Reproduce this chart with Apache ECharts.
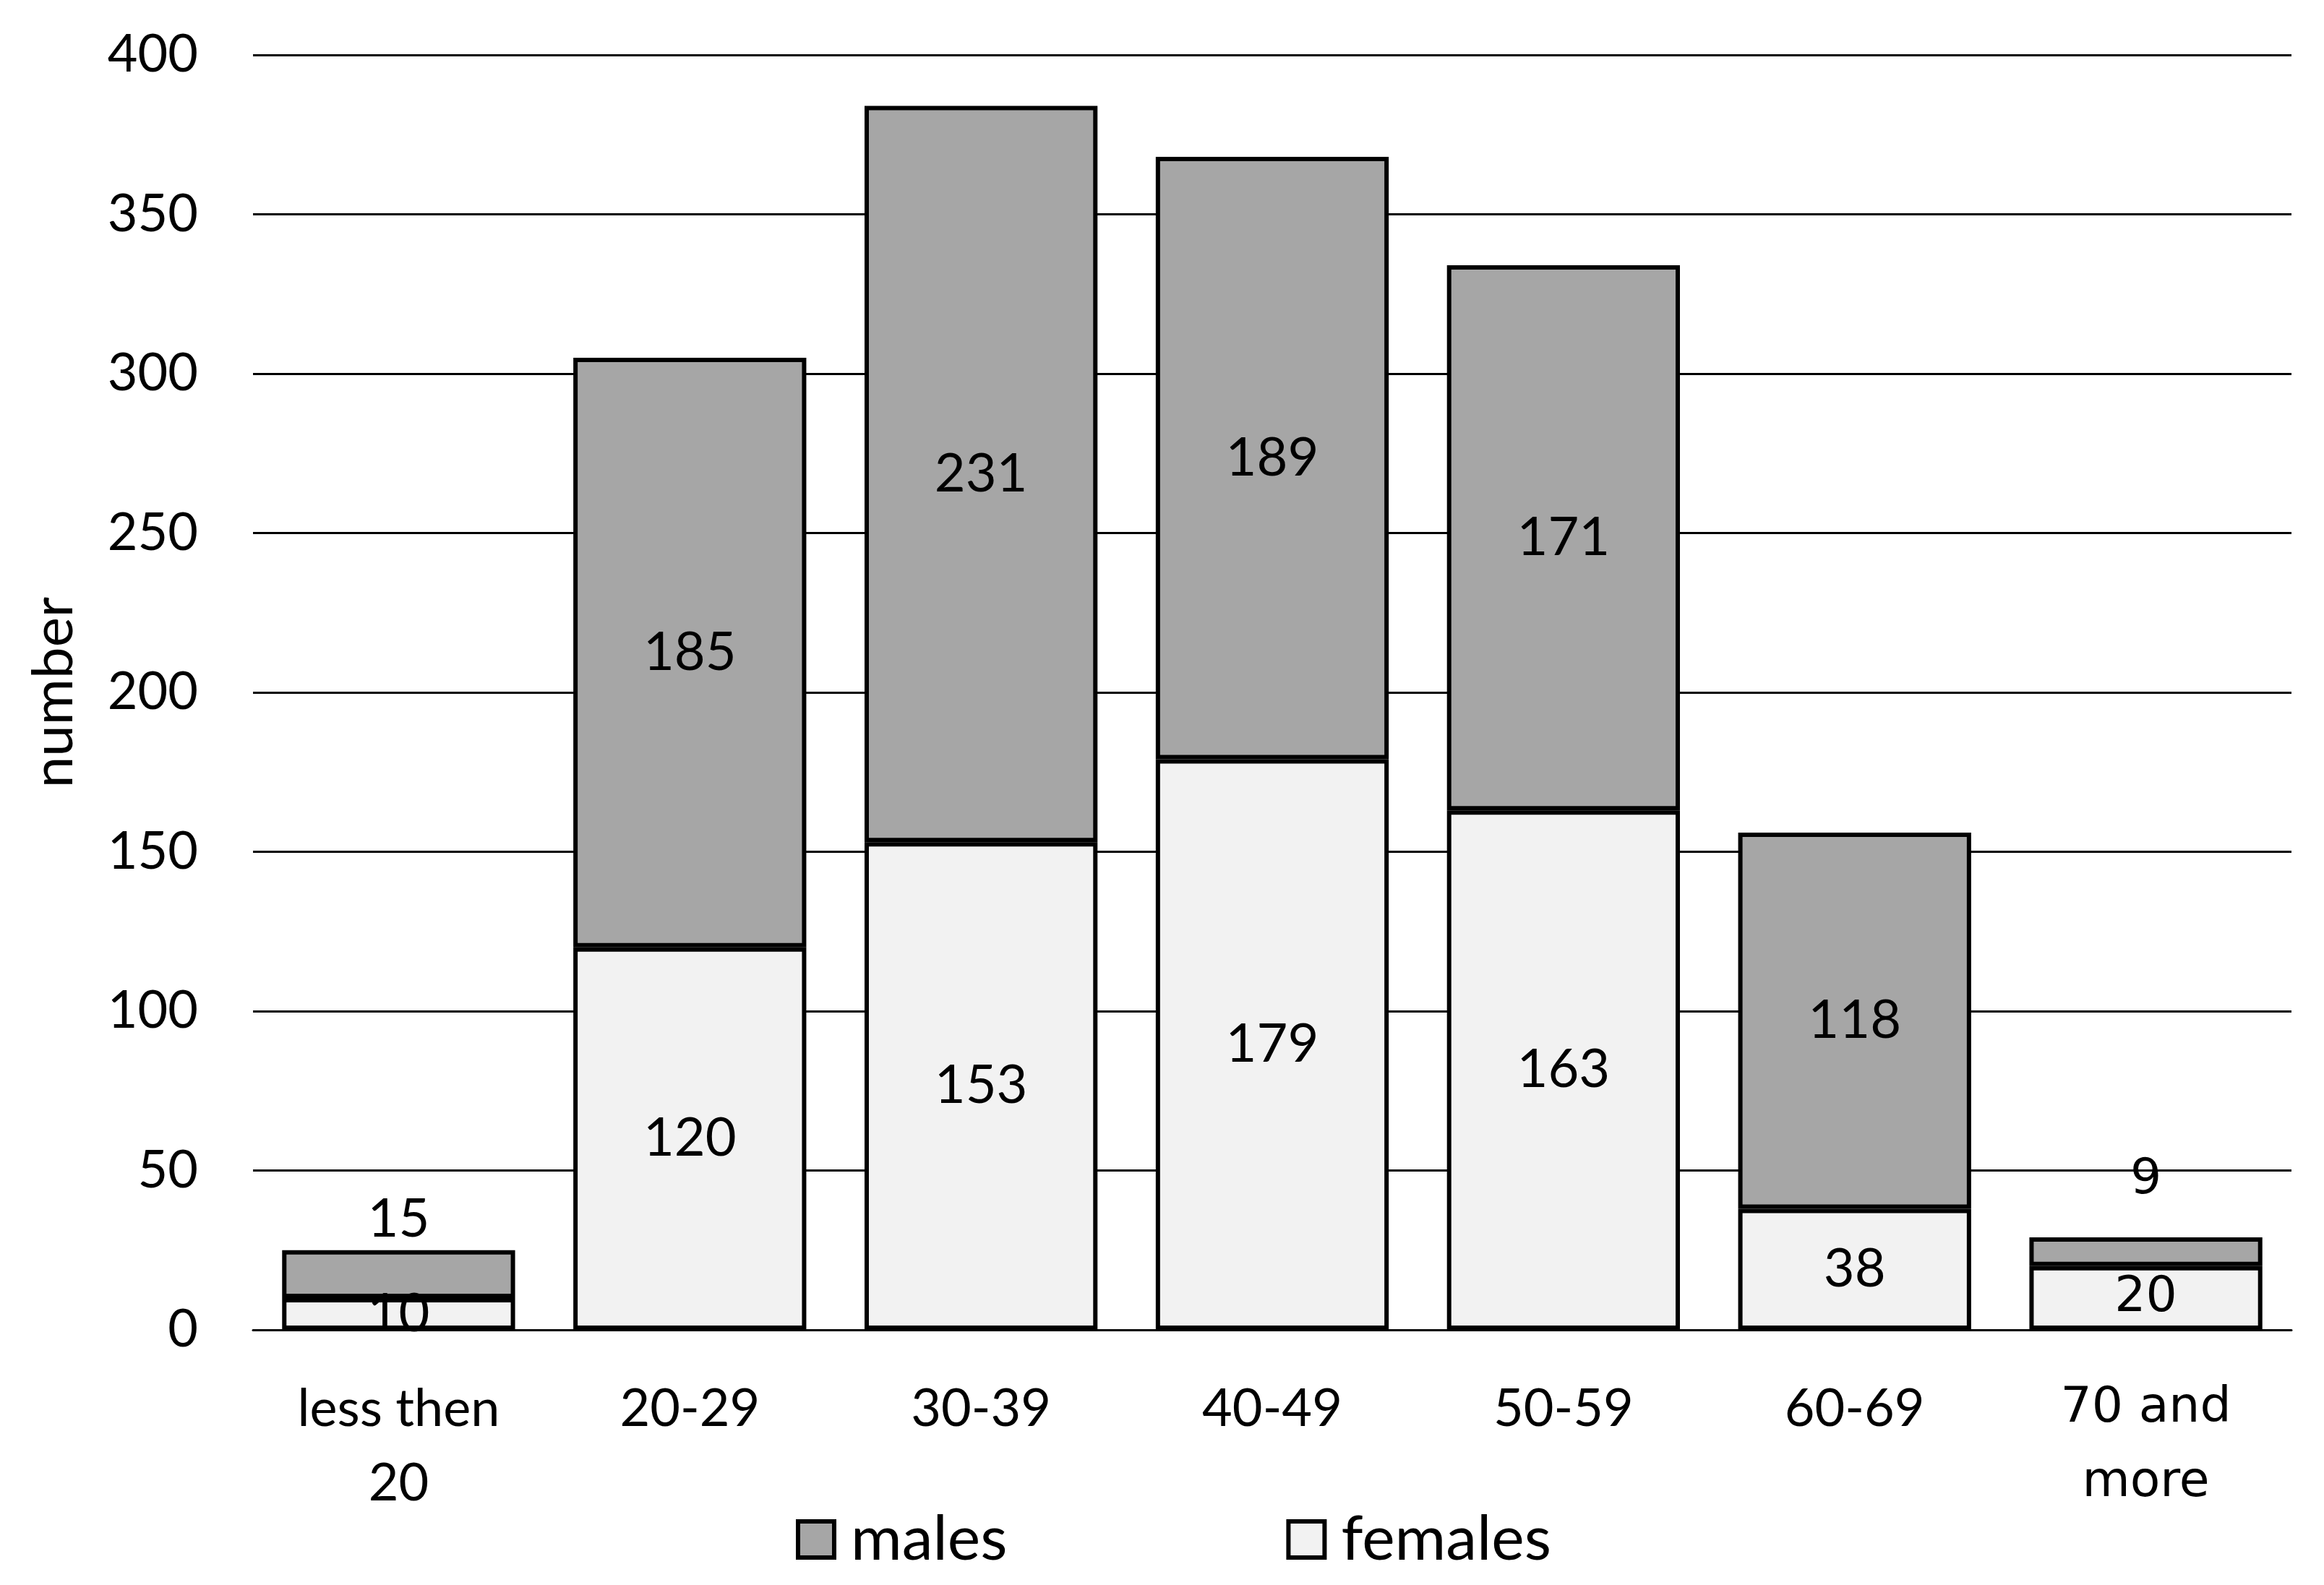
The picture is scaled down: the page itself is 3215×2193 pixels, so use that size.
<!DOCTYPE html>
<html>
<head>
<meta charset="utf-8">
<script src="https://cdn.jsdelivr.net/npm/echarts@6/dist/echarts.min.js"></script>
<style>
html,body{margin:0;padding:0;background:#fff;}
#chart{width:3215px;height:2193px;}
</style>
</head>
<body>
<div id="chart"></div>
<script>
const categories = ['less then\n20', '20-29', '30-39', '40-49', '50-59', '60-69', '70 and\nmore'];
const females = [10, 120, 153, 179, 163, 38, 20];
const males = [15, 185, 231, 189, 171, 118, 9];
const yTicks = [0, 50, 100, 150, 200, 250, 300, 350, 400];

const FONT = 'Lato';
const ALT = 'DejaVu Sans';
const lastIdx = categories.length - 1;

function femaleData() {
  return females.map((v, i) => i === lastIdx
    ? { value: v, label: { fontFamily: ALT, fontSize: 68 } }
    : v);
}
function maleData() {
  return males.map((v, i) => {
    if (v < 20) {
      const o = { value: v, label: { position: 'top', distance: i === lastIdx ? 45 : 6 } };
      if (i === lastIdx) { o.label.fontFamily = ALT; o.label.fontSize = 68; }
      return o;
    }
    return v;
  });
}

const chart = echarts.init(document.getElementById('chart'));
chart.setOption({
  animation: false,
  backgroundColor: '#ffffff',
  textStyle: { fontFamily: FONT, color: '#000' },
  grid: { left: 350, right: 45, top: 76, bottom: 353, containLabel: false },
  legend: {
    data: ['males', 'females'],
    left: 1096,
    top: 2082,
    itemWidth: 50,
    itemHeight: 50,
    itemGap: 386,
    icon: 'rect',
    itemStyle: { borderColor: '#000', borderWidth: 6 },
    textStyle: { fontFamily: FONT, fontSize: 86, color: '#000', padding: [0, 0, 0, 18] }
  },
  xAxis: {
    type: 'category',
    data: categories,
    axisTick: { show: false },
    axisLine: { show: true, lineStyle: { color: '#000', width: 3 } },
    axisLabel: {
      interval: 0,
      margin: 58,
      fontSize: 72,
      lineHeight: 103,
      color: '#000',
      fontFamily: FONT,
      formatter: function (v, i) {
        return i === lastIdx ? v.split('\n').map(s => '{d|' + s + '}').join('\n') : v;
      },
      rich: { d: { fontFamily: ALT, fontSize: 68, lineHeight: 103, color: '#000' } }
    }
  },
  yAxis: {
    type: 'value',
    min: yTicks[0],
    max: yTicks[yTicks.length - 1],
    interval: yTicks[1] - yTicks[0],
    name: 'number',
    nameLocation: 'middle',
    nameGap: 236,
    nameRotate: 90,
    nameTextStyle: { fontFamily: FONT, fontSize: 78, color: '#000' },
    axisLine: { show: false },
    axisTick: { show: false },
    axisLabel: { fontSize: 72, color: '#000', margin: 76, fontFamily: FONT },
    splitLine: { show: true, lineStyle: { color: '#000', width: 3 } }
  },
  series: [
    {
      name: 'females',
      type: 'bar',
      stack: 'total',
      barWidth: '80%',
      data: femaleData(),
      itemStyle: { color: '#f2f2f2', borderColor: '#000', borderWidth: 6 },
      label: { show: true, position: 'inside', fontSize: 74, color: '#000', fontFamily: FONT }
    },
    {
      name: 'males',
      type: 'bar',
      stack: 'total',
      barWidth: '80%',
      data: maleData(),
      itemStyle: { color: '#a6a6a6', borderColor: '#000', borderWidth: 6 },
      label: { show: true, position: 'inside', fontSize: 74, color: '#000', fontFamily: FONT }
    }
  ]
});
</script>
</body>
</html>
